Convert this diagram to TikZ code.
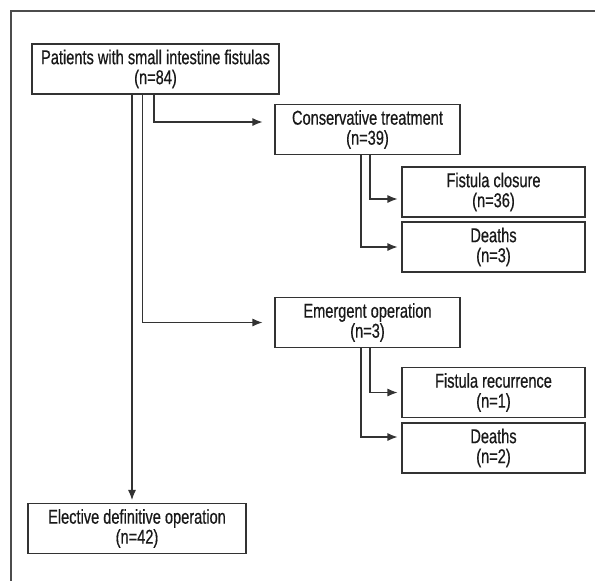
\documentclass[tikz,border=0pt]{standalone}
\usepackage{fontspec}
\setmainfont{Liberation Sans}[FakeStretch=0.73,FakeBold=0.6]
\usetikzlibrary{arrows.meta}
\begin{document}
\begin{tikzpicture}[x=1pt,y=-1pt,
  box/.style={draw=black!80,line width=1.1pt,align=center,inner sep=0pt,
    minimum height=50pt,font=\fontsize{20}{20}\selectfont,text=black!90},
  arr/.style={draw=black!80,line width=1.1pt,-{Latex[length=10pt,width=8pt]}}]
\useasboundingbox (0,0) rectangle (595,581);
\draw[black!70,line width=1.6pt] (595,11) -- (11,11) -- (11,581);
\node[box,minimum width=247pt] (pat) at (155.5,69) {Patients with small intestine fistulas\\(n=84)};
\node[box,minimum width=185pt] (con) at (367.5,129.5) {Conservative treatment\\(n=39)};
\node[box,minimum width=183pt] (clo) at (493.5,192) {Fistula closure\\(n=36)};
\node[box,minimum width=183pt] (dea1) at (493.5,247) {Deaths\\(n=3)};
\node[box,minimum width=185pt] (eme) at (367.5,322.5) {Emergent operation\\(n=3)};
\node[box,minimum width=183pt] (rec) at (493.5,392.5) {Fistula recurrence\\(n=1)};
\node[box,minimum width=183pt] (dea2) at (493.5,448) {Deaths\\(n=2)};
\node[box,minimum width=218pt] (ele) at (137,528.5) {Elective definitive operation\\(n=42)};
\draw[arr] ([xshift=-23.5pt]pat.south) -- ([xshift=-5pt,yshift=3pt]ele.north);
\draw[arr] ([xshift=-1.5pt]pat.south) |- ([xshift=-12pt,yshift=7.5pt]con.west);
\draw[arr] ([xshift=-13pt]pat.south) |- ([xshift=-12pt]eme.west);
\draw[arr] ([xshift=2.5pt]con.south) |- ([xshift=-4pt,yshift=-7pt]clo.west);
\draw[arr] ([xshift=-6.5pt]con.south) |- ([xshift=-4pt]dea1.west);
\draw[arr] ([xshift=2.5pt]eme.south) |- ([xshift=-4pt]rec.west);
\draw[arr] ([xshift=-6.5pt]eme.south) |- ([xshift=-4pt,yshift=11pt]dea2.west);
\end{tikzpicture}
\end{document}
